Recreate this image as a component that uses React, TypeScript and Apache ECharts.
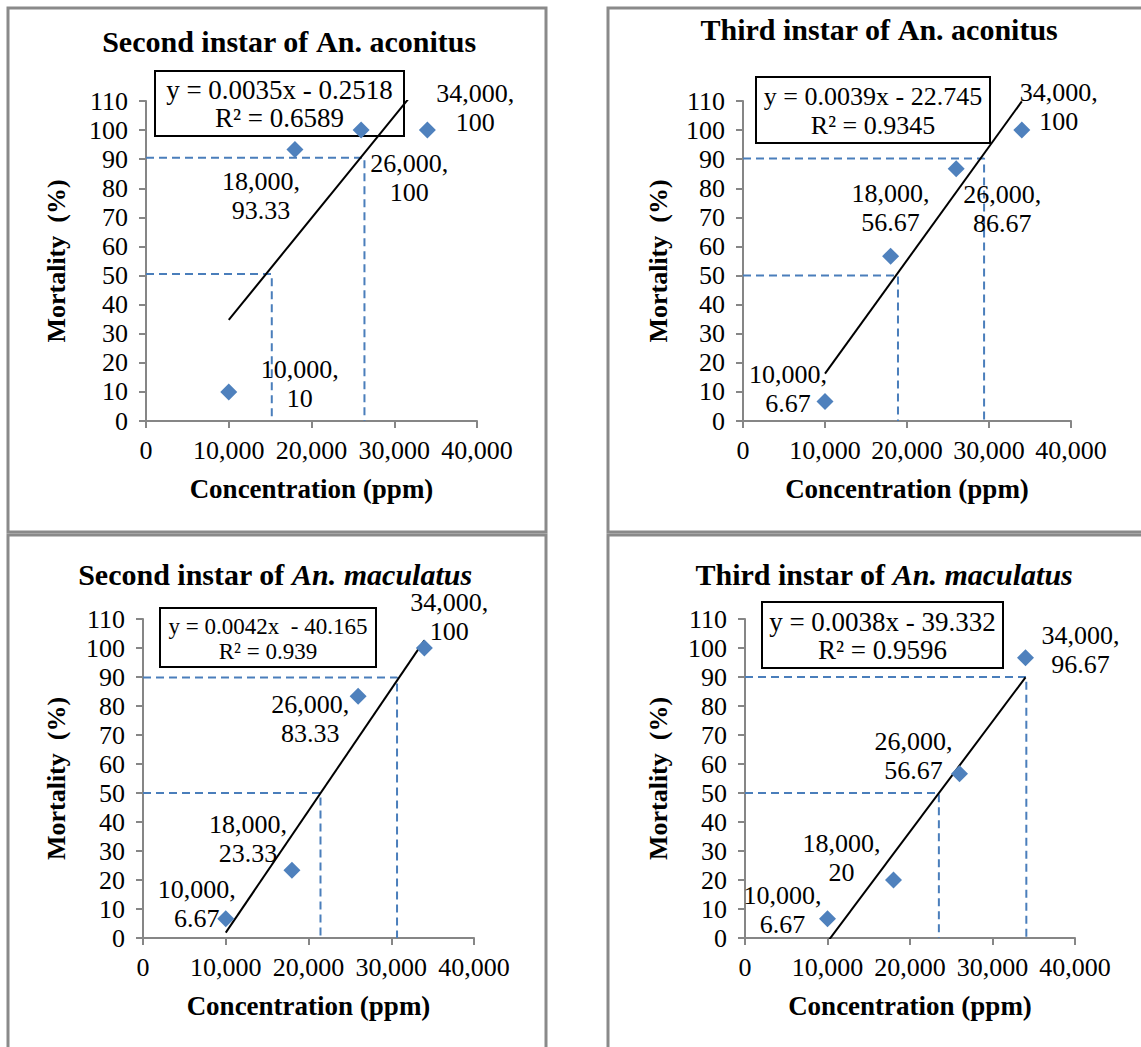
import React, { useEffect, useRef } from "react";
import * as echarts from "echarts";

// ---------------- data ----------------
const concentrations = [10000, 18000, 26000, 34000];
const mortality2ndAconitus = [10, 93.33, 100, 100];
const mortality3rdAconitus = [6.67, 56.67, 86.67, 100];
const mortality2ndMaculatus = [6.67, 23.33, 83.33, 100];
const mortality3rdMaculatus = [6.67, 20, 56.67, 96.67];

// trendline end points (x, y) as drawn
const trend2ndAconitus = [[10000, 34.75], [34000, 118.75]];
const trend3rdAconitus = [[10000, 16.26], [34000, 109.86]];
const trend2ndMaculatus = [[10000, 1.84], [34000, 102.64]];
const trend3rdMaculatus = [[10000, -1.33], [34000, 89.87]];

// dashed LC50 / LC90 guide lines: [x, y]
const lc50Points = [[15200, 50.5], [18900, 50], [21450, 50], [23500, 50]];
const lc90Points = [[26400, 90.5], [29400, 90.2], [30700, 89.8], [34100, 90]];

const titles = [
  ["Second instar of ", "An. aconitus", false],
  ["Third instar of ", "An. aconitus", false],
  ["Second instar of ", "An. maculatus", true],
  ["Third instar of ", "An. maculatus", true],
];
const equations = [
  ["y = 0.0035x - 0.2518", "R² = 0.6589"],
  ["y = 0.0039x - 22.745", "R² = 0.9345"],
  ["y = 0.0042x  - 40.165", "R² = 0.939"],
  ["y = 0.0038x - 39.332", "R² = 0.9596"],
];
const xTickMax = 40000;
const xTickStep = 10000;
const yTickMax = 110;
const yTickStep = 10;
const xAxisTitle = "Concentration (ppm)";
const yAxisTitle = "Mortality  (%)";

// ---------------- layout ----------------
const FONT = "Liberation Serif";
const AXIS_GRAY = "#868686";
const MARKER = "#4F81BD";
const DASH = "#4A7EBB";

const grids = [
  { left: 146, top: 101, width: 331, height: 320 },
  { left: 743, top: 101, width: 328, height: 320 },
  { left: 143, top: 619, width: 331, height: 319 },
  { left: 745, top: 619, width: 330, height: 319 },
];
const yNameGaps = [77, 72, 74, 74];
const titlePos = [
  [289, 41],
  [879, 29],
  [275, 574],
  [884, 574],
];
const boxes = [
  { x: 155, y: 71, w: 249, h: 65, fs: 27, l1: 19, l2: 47 },
  { x: 756, y: 77, w: 234, h: 66, fs: 26, l1: 19, l2: 48 },
  { x: 160, y: 608, w: 216, h: 59, fs: 23, l1: 18, l2: 43 },
  { x: 762, y: 602, w: 241, h: 66, fs: 27, l1: 20, l2: 48 },
];
// label centre offsets relative to each point
const labelOffsets = [
  [[71, -8], [-34, 47], [48, 48], [48, -22]],
  [[-37, -13], [0, -48], [46, 40], [37, -23]],
  [[-29, -15], [-44, -31], [-48, 23], [25, -31]],
  [[-45, -9], [-52, -22], [-46, -18], [55, -8]],
];
const panels = [
  { x: 8, y: 8, w: 538, h: 524 },
  { x: 608, y: 8, w: 620, h: 524 },
  { x: 8, y: 535, w: 538, h: 600 },
  { x: 608, y: 535, w: 620, h: 600 },
];

const fmtThousands = (v: number) =>
  Math.round(v).toString().replace(/\B(?=(\d{3})+(?!\d))/g, ",");

export default function App() {
  const ref = useRef<HTMLDivElement>(null);

  useEffect(() => {
    if (!ref.current) return;
    const chart = echarts.init(ref.current, null, { renderer: "svg" });

    const mortalities = [
      mortality2ndAconitus,
      mortality3rdAconitus,
      mortality2ndMaculatus,
      mortality3rdMaculatus,
    ];
    const trends = [trend2ndAconitus, trend3rdAconitus, trend2ndMaculatus, trend3rdMaculatus];

    const xAxes: any[] = [];
    const yAxes: any[] = [];
    const series: any[] = [];

    grids.forEach((g, i) => {
      xAxes.push({
        type: "value",
        gridIndex: i,
        min: 0,
        max: xTickMax,
        interval: xTickStep,
        axisLine: { show: true, onZero: false, lineStyle: { color: AXIS_GRAY, width: 2 } },
        axisTick: { show: true, inside: false, length: 7, lineStyle: { color: AXIS_GRAY, width: 2 } },
        splitLine: { show: false },
        axisLabel: {
          color: "#000",
          fontFamily: FONT,
          fontSize: 26,
          margin: 16,
          formatter: (v: number) => fmtThousands(v),
        },
        name: xAxisTitle,
        nameLocation: "middle",
        nameGap: 54,
        nameTextStyle: { color: "#000", fontFamily: FONT, fontSize: 27, fontWeight: "bold" },
      });
      yAxes.push({
        type: "value",
        gridIndex: i,
        min: 0,
        max: yTickMax,
        interval: yTickStep,
        axisLine: { show: true, onZero: false, lineStyle: { color: AXIS_GRAY, width: 2 } },
        axisTick: { show: true, inside: false, length: 7, lineStyle: { color: AXIS_GRAY, width: 2 } },
        splitLine: { show: false },
        axisLabel: { color: "#000", fontFamily: FONT, fontSize: 26, margin: 18 },
        name: yAxisTitle,
        nameLocation: "middle",
        nameGap: yNameGaps[i],
        nameTextStyle: { color: "#000", fontFamily: FONT, fontSize: 26, fontWeight: "bold" },
      });

      // dashed guide lines
      const p50 = lc50Points[i];
      const p90 = lc90Points[i];
      [p50, p90].forEach((p) => {
        series.push({
          type: "line",
          xAxisIndex: i,
          yAxisIndex: i,
          data: [[0, p[1]], [p[0], p[1]], [p[0], 0]],
          symbol: "none",
          silent: true,
          lineStyle: { color: DASH, width: 2, type: [8, 5] },
          z: 2,
        });
      });

      // trendline
      series.push({
        type: "line",
        xAxisIndex: i,
        yAxisIndex: i,
        data: trends[i],
        symbol: "none",
        clip: true,
        silent: true,
        lineStyle: { color: "#000", width: 2 },
        z: 3,
      });

      // points
      series.push({
        type: "scatter",
        xAxisIndex: i,
        yAxisIndex: i,
        symbol: "diamond",
        symbolSize: 17,
        itemStyle: { color: MARKER, opacity: 1 },
        z: 4,
        data: concentrations.map((c, k) => ({
          value: [c, mortalities[i][k]],
          label: { offset: labelOffsets[i][k] },
        })),
        label: {
          show: true,
          position: "inside",
          align: "center",
          verticalAlign: "middle",
          color: "#000",
          textBorderWidth: 0,
          textBorderColor: "transparent",
          fontFamily: FONT,
          fontSize: 26,
          lineHeight: 29,
          formatter: (p: any) => `${fmtThousands(p.value[0])},\n${p.value[1]}`,
        },
      });
    });

    const graphics: any[] = [];
    panels.forEach((p) => {
      graphics.push({
        type: "rect",
        shape: { x: p.x, y: p.y, width: p.w, height: p.h },
        style: { fill: "none", stroke: "#8a8a8a", lineWidth: 3 },
        silent: true,
        z: 0,
      });
    });
    titles.forEach((t, i) => {
      graphics.push({
        type: "text",
        x: titlePos[i][0],
        y: titlePos[i][1],
        silent: true,
        style: {
          text: `{a|${t[0]}}{b|${t[1]}}`,
          align: "center",
          verticalAlign: "middle",
          rich: {
            a: { fontFamily: FONT, fontSize: 30, fontWeight: "bold", fill: "#000" },
            b: {
              fontFamily: FONT,
              fontSize: 30,
              fontWeight: "bold",
              fontStyle: t[2] ? "italic" : "normal",
              fill: "#000",
            },
          },
        },
      });
    });
    boxes.forEach((b, i) => {
      graphics.push({
        type: "group",
        x: b.x,
        y: b.y,
        z: 10,
        children: [
          {
            type: "rect",
            shape: { x: 0, y: 0, width: b.w, height: b.h },
            style: { fill: "#fff", stroke: "#000", lineWidth: 2 },
          },
          {
            type: "text",
            x: b.w / 2,
            y: b.l1,
            style: {
              text: equations[i][0],
              align: "center",
              verticalAlign: "middle",
              fontFamily: FONT,
              fontSize: b.fs,
              fill: "#000",
            },
          },
          {
            type: "text",
            x: b.w / 2,
            y: b.l2,
            style: {
              text: equations[i][1],
              align: "center",
              verticalAlign: "middle",
              fontFamily: FONT,
              fontSize: b.fs,
              fill: "#000",
            },
          },
        ],
      });
    });

    chart.setOption({
      animation: false,
      backgroundColor: "#fff",
      grid: grids.map((g) => ({ ...g, containLabel: false })),
      xAxis: xAxes,
      yAxis: yAxes,
      series,
      graphic: graphics,
    });

    return () => chart.dispose();
  }, []);

  return (
    <div
      ref={ref}
      style={{ position: "absolute", left: 0, top: 0, width: 1141, height: 1047 }}
    />
  );
}
